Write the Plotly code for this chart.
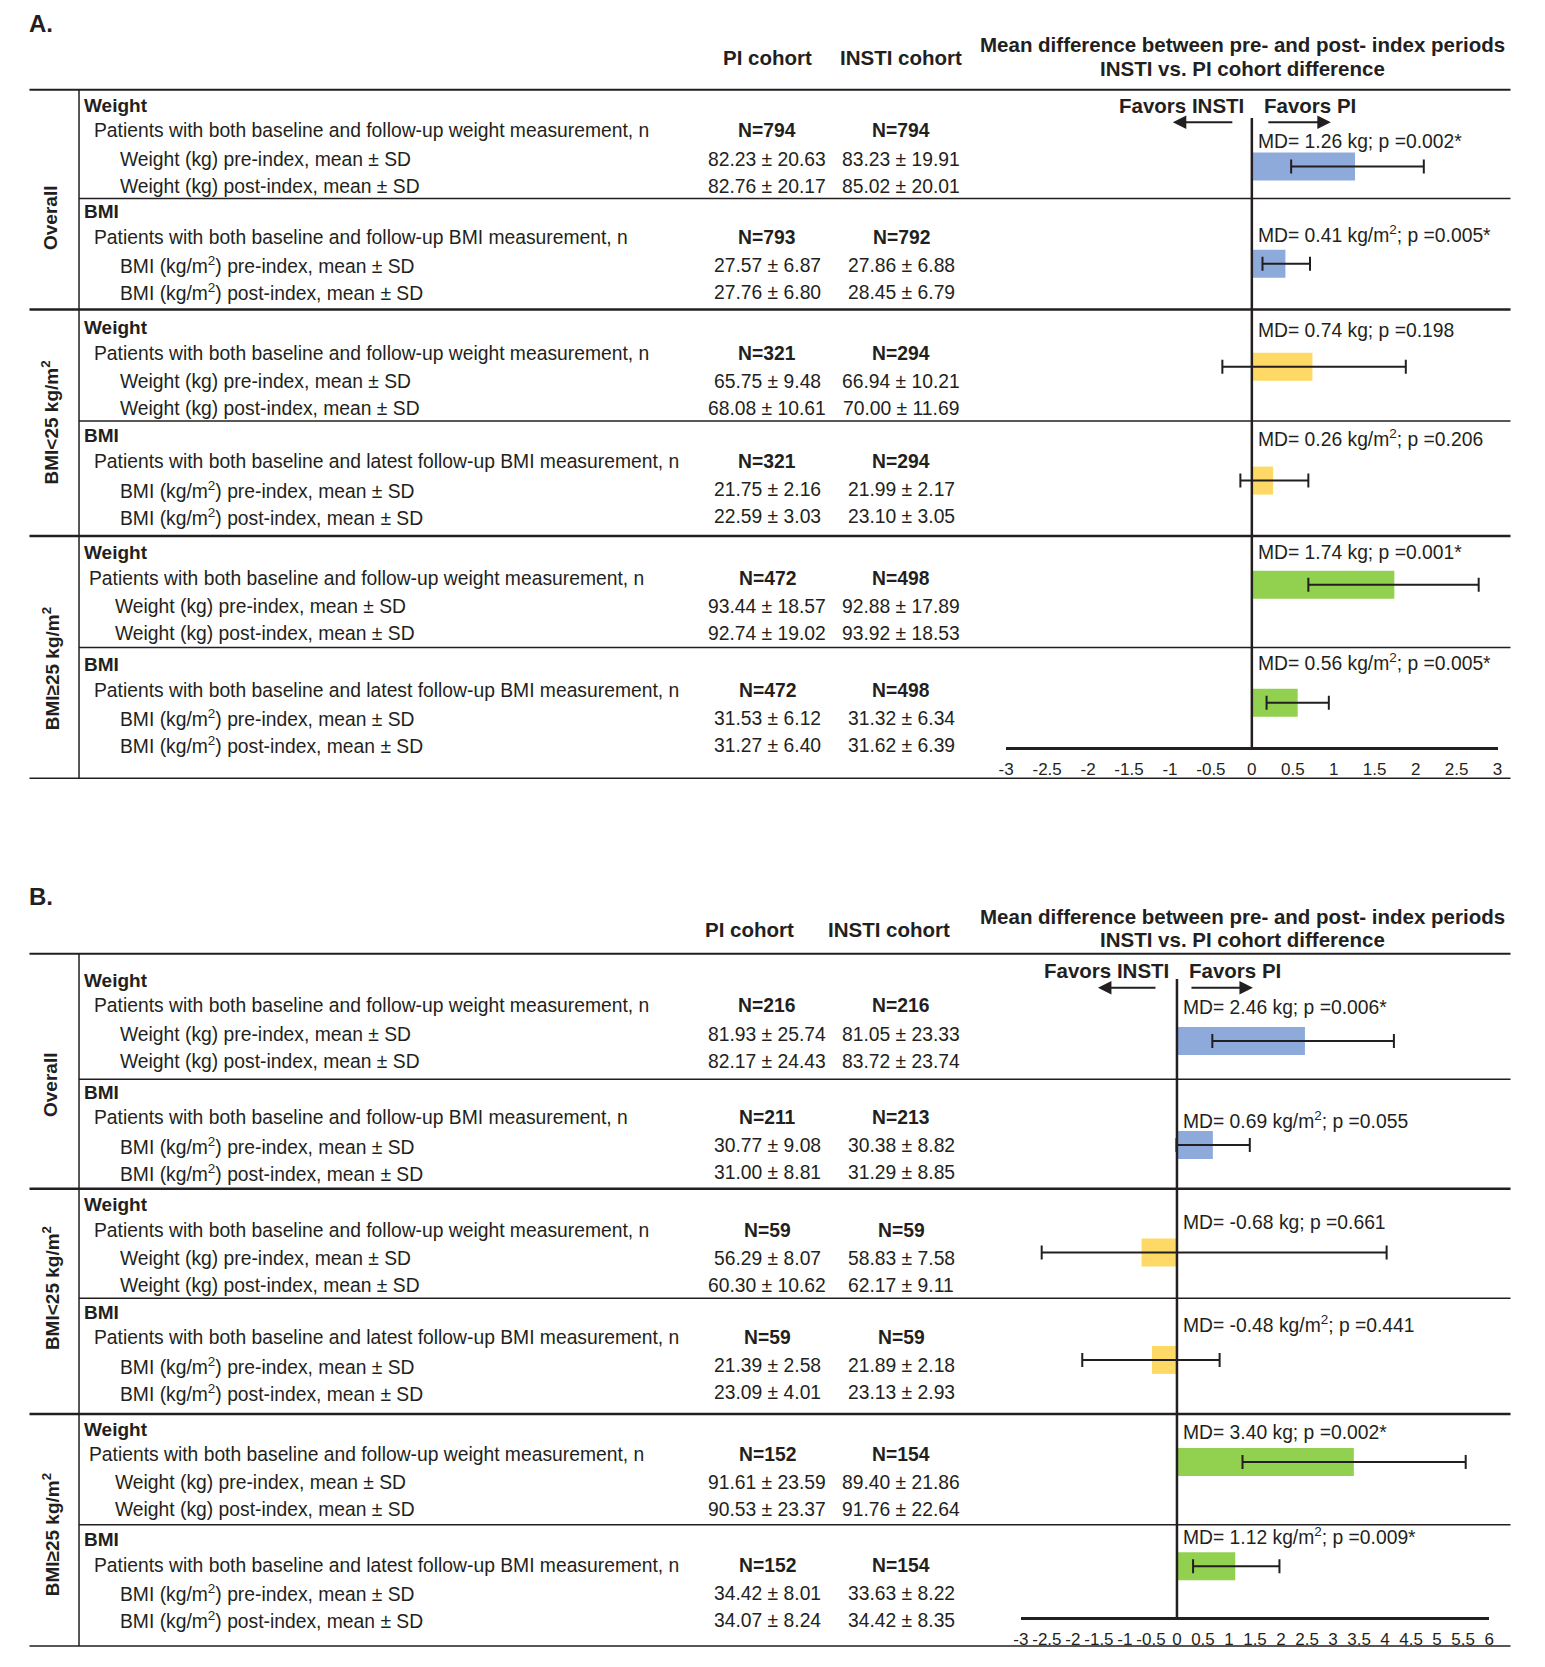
import plotly.graph_objects as go

PAGE_W, PAGE_H = 1545, 1667
OFF = 8  # default body margin of the html page
FW, FH = PAGE_W - 2 * OFF, PAGE_H - 2 * OFF  # keep the page free of overflow
# horizontal calibration of the rendered page (measured from previous renders)
CAL_SCALE, CAL_SHIFT = 0.9908, 8.6
FONT = "Liberation Sans, Arial, Helvetica, sans-serif"
INK = "#231F20"
BODY = 19.3

# ---------------- text shared by both panels ----------------
group_labels = ["Overall", "BMI&lt;25 kg/m<sup>2</sup>", "BMI≥25 kg/m<sup>2</sup>"]
measure_names = ["Weight", "BMI", "Weight", "BMI", "Weight", "BMI"]
patient_rows = [
    "Patients with both baseline and follow-up weight measurement, n",
    "Patients with both baseline and follow-up BMI measurement, n",
    "Patients with both baseline and follow-up weight measurement, n",
    "Patients with both baseline and latest follow-up BMI measurement, n",
    "Patients with both baseline and follow-up weight measurement, n",
    "Patients with both baseline and latest follow-up BMI measurement, n",
]
pre_rows = ["Weight (kg) pre-index, mean ± SD", "BMI (kg/m<sup>2</sup>) pre-index, mean ± SD"] * 3
post_rows = ["Weight (kg) post-index, mean ± SD", "BMI (kg/m<sup>2</sup>) post-index, mean ± SD"] * 3
md_units = ["kg", "kg/m<sup>2</sup>"] * 3
col_headers = ["PI cohort", "INSTI cohort"]
md_header = ["Mean difference between pre- and post- index periods", "INSTI vs. PI cohort difference"]
favors = ["Favors INSTI", "Favors PI"]

# ---------------- panel A data ----------------
a_pi_n = [794, 793, 321, 321, 472, 472]
a_insti_n = [794, 792, 294, 294, 498, 498]
a_pi_pre_mean = [82.23, 27.57, 65.75, 21.75, 93.44, 31.53]
a_pi_pre_sd = [20.63, 6.87, 9.48, 2.16, 18.57, 6.12]
a_pi_post_mean = [82.76, 27.76, 68.08, 22.59, 92.74, 31.27]
a_pi_post_sd = [20.17, 6.80, 10.61, 3.03, 19.02, 6.40]
a_insti_pre_mean = [83.23, 27.86, 66.94, 21.99, 92.88, 31.32]
a_insti_pre_sd = [19.91, 6.88, 10.21, 2.17, 17.89, 6.34]
a_insti_post_mean = [85.02, 28.45, 70.00, 23.10, 93.92, 31.62]
a_insti_post_sd = [20.01, 6.79, 11.69, 3.05, 18.53, 6.39]
a_md = [1.26, 0.41, 0.74, 0.26, 1.74, 0.56]
a_ci_low = [0.48, 0.13, -0.36, -0.14, 0.69, 0.18]
a_ci_high = [2.10, 0.71, 1.88, 0.69, 2.77, 0.94]
a_p = ["0.002*", "0.005*", "0.198", "0.206", "0.001*", "0.005*"]
a_ticks = [-3, -2.5, -2, -1.5, -1, -0.5, 0, 0.5, 1, 1.5, 2, 2.5, 3]
a_tick_labels = ["-3", "-2.5", "-2", "-1.5", "-1", "-0.5", "0", "0.5", "1", "1.5", "2", "2.5", "3"]

# ---------------- panel B data ----------------
b_pi_n = [216, 211, 59, 59, 152, 152]
b_insti_n = [216, 213, 59, 59, 154, 154]
b_pi_pre_mean = [81.93, 30.77, 56.29, 21.39, 91.61, 34.42]
b_pi_pre_sd = [25.74, 9.08, 8.07, 2.58, 23.59, 8.01]
b_pi_post_mean = [82.17, 31.00, 60.30, 23.09, 90.53, 34.07]
b_pi_post_sd = [24.43, 8.81, 10.62, 4.01, 23.37, 8.24]
b_insti_pre_mean = [81.05, 30.38, 58.83, 21.89, 89.40, 33.63]
b_insti_pre_sd = [23.33, 8.82, 7.58, 2.18, 21.86, 8.22]
b_insti_post_mean = [83.72, 31.29, 62.17, 23.13, 91.76, 34.42]
b_insti_post_sd = [23.74, 8.85, 9.11, 2.93, 22.64, 8.35]
b_md = [2.46, 0.69, -0.68, -0.48, 3.40, 1.12]
b_ci_low = [0.68, -0.01, -2.60, -1.82, 1.26, 0.31]
b_ci_high = [4.17, 1.40, 4.03, 0.82, 5.55, 1.97]
b_p = ["0.006*", "0.055", "0.661", "0.441", "0.002*", "0.009*"]
b_ticks = [-3, -2.5, -2, -1.5, -1, -0.5, 0, 0.5, 1, 1.5, 2, 2.5, 3, 3.5, 4, 4.5, 5, 5.5, 6]
b_tick_labels = ["-3", "-2.5", "-2", "-1.5", "-1", "-0.5", "0", "0.5", "1", "1.5", "2",
                 "2.5", "3", "3.5", "4", "4.5", "5", "5.5", "6"]

# ---------------- styles / layout (page pixel positions) ----------------
bar_colors = ["#8EAADB", "#8EAADB", "#FFD966", "#FFD966", "#92D050", "#92D050"]
indent_shift = [0, 0, 0, 0, -5, 0]
row_offsets = [0, 25.5, 53.7, 80.8]
COL_X = (767, 901)
BAR_H = 28

panels = [
    dict(letter="A.", xa="x", ya="y", xkey="xaxis", ykey="yaxis",
         dom_top=10, dom_bot=800, x_left=1006, x_right=1497, axis_y=747.5,
         letter_y=23.4, colhead_y=57.4, colhead_x=(767, 901), mdhead_y=(44.7, 68.0),
         head_line=89.8, inner_lines=(198.5, 309.4, 421.1, 535.9, 647.5), bottom_line=778.3,
         favors_y=105.5, arrow_y=122.3, zero_top=118,
         arrows=((-18, -79), (15, 79)),
         group_label_y=(217.5, 422, 668.8),
         hdr_y=(105.3, 211.6, 327.5, 435.9, 552.9, 664.5),
         md_y=(141.5, 233.9, 330.7, 438.1, 552.9, 662.4),
         bar_y=(166.5, 263.7, 366.8, 480.6, 584.8, 702.8),
         ticks=a_ticks, tick_labels=a_tick_labels, xr=(-3, 3),
         pi_n=a_pi_n, insti_n=a_insti_n,
         pi_pre=(a_pi_pre_mean, a_pi_pre_sd), pi_post=(a_pi_post_mean, a_pi_post_sd),
         insti_pre=(a_insti_pre_mean, a_insti_pre_sd), insti_post=(a_insti_post_mean, a_insti_post_sd),
         md=a_md, lo=a_ci_low, hi=a_ci_high, p=a_p),
    dict(letter="B.", xa="x2", ya="y2", xkey="xaxis2", ykey="yaxis2",
         dom_top=850, dom_bot=1656, x_left=1020.7, x_right=1488.6, axis_y=1618.3,
         letter_y=896.3, colhead_y=929.3, colhead_x=(749.6, 889), mdhead_y=(916.5, 940.0),
         head_line=953.7, inner_lines=(1079.2, 1188.7, 1298.2, 1414.1, 1524.7), bottom_line=1645.9,
         favors_y=970.8, arrow_y=987.8, zero_top=979,
         arrows=((-20, -79), (13, 76)),
         group_label_y=(1084.5, 1287.6, 1534.8),
         hdr_y=(980.3, 1092.0, 1204.7, 1312.1, 1429.0, 1539.6),
         md_y=(1008.0, 1119.6, 1222.8, 1323.8, 1432.2, 1536.4),
         bar_y=(1041.0, 1145.1, 1252.5, 1359.9, 1462.0, 1566.2),
         ticks=b_ticks, tick_labels=b_tick_labels, xr=(-3, 6),
         pi_n=b_pi_n, insti_n=b_insti_n,
         pi_pre=(b_pi_pre_mean, b_pi_pre_sd), pi_post=(b_pi_post_mean, b_pi_post_sd),
         insti_pre=(b_insti_pre_mean, b_insti_pre_sd), insti_post=(b_insti_post_mean, b_insti_post_sd),
         md=b_md, lo=b_ci_low, hi=b_ci_high, p=b_p),
]


def PX(x):
    css = (x - CAL_SHIFT) / CAL_SCALE
    return (css - OFF) / FW


def PY(y):
    return 1 - (y - OFF) / FH


fig = go.Figure()
annotations = []
shapes = []


def font(size):
    return dict(family=FONT, size=size, color=INK)


def add_text(text, x, y, yref, size=BODY, anchor="left", bold=False, angle=0, xref="paper", xshift=0):
    annotations.append(dict(
        text=f"<b>{text}</b>" if bold else text,
        x=PX(x) if xref == "paper" else x, xref=xref, y=y, yref=yref,
        xanchor=anchor, yanchor="middle", showarrow=False, font=font(size),
        textangle=angle, xshift=xshift))


def hline(y, x0, x1, yref, width):
    shapes.append(dict(type="line", xref="paper", yref=yref, x0=PX(x0), x1=PX(x1),
                       y0=y, y1=y, line=dict(color=INK, width=width)))


def fmt(mean, sd):
    return f"{mean:.2f} ± {sd:.2f}"


layout_axes = {}
for L in panels:
    ya, xa = L["ya"], L["xa"]

    layout_axes[L["ykey"]] = dict(domain=[PY(L["dom_bot"]), PY(L["dom_top"])],
                                  range=[L["dom_bot"], L["dom_top"]],
                                  visible=False, anchor=xa, fixedrange=True)
    layout_axes[L["xkey"]] = dict(domain=[PX(L["x_left"]), PX(L["x_right"])], range=list(L["xr"]),
                                  anchor="free", position=PY(L["axis_y"]),
                                  showline=True, linecolor=INK, linewidth=2.5, ticks="",
                                  tickmode="array", tickvals=L["ticks"], ticktext=L["tick_labels"],
                                  tickfont=font(17), tickangle=0, showgrid=False, zeroline=False,
                                  ticklabelstandoff=5, fixedrange=True)

    # headers
    add_text(L["letter"], 28, L["letter_y"], ya, size=24, bold=True)
    add_text(col_headers[0], L["colhead_x"][0], L["colhead_y"], ya, size=20.5, anchor="center", bold=True)
    add_text(col_headers[1], L["colhead_x"][1], L["colhead_y"], ya, size=20.5, anchor="center", bold=True)
    add_text(md_header[0], 1242, L["mdhead_y"][0], ya, size=20.5, anchor="center", bold=True)
    add_text(md_header[1], 1242, L["mdhead_y"][1], ya, size=20.5, anchor="center", bold=True)

    # favors labels and arrows
    add_text(favors[0], 0, L["favors_y"], ya, size=20.5, anchor="right", bold=True, xref=xa, xshift=-6)
    add_text(favors[1], 0, L["favors_y"], ya, size=20.5, anchor="left", bold=True, xref=xa, xshift=10)
    for tail, head in L["arrows"]:
        annotations.append(dict(text="", x=0, xref=xa, y=L["arrow_y"], yref=ya, xshift=head,
                                ax=tail - head, ay=0, showarrow=True, arrowhead=2, arrowsize=1.35,
                                arrowwidth=2, arrowcolor=INK, standoff=0, startstandoff=0))

    # table lines
    hline(L["head_line"], 30, 1510, ya, 2)
    for m, yl in enumerate(L["inner_lines"], start=1):
        if m % 2 == 0:
            hline(yl, 30, 1510, ya, 2.5)
        else:
            hline(yl, 79.5, 1510, ya, 1.5)
    hline(L["bottom_line"], 30, 1510, ya, 1.5)
    shapes.append(dict(type="line", xref="paper", yref=ya, x0=PX(79.5), x1=PX(79.5),
                       y0=L["head_line"], y1=L["bottom_line"], line=dict(color=INK, width=1.5)))
    # zero line
    shapes.append(dict(type="line", xref=xa, yref=ya, x0=0, x1=0, y0=L["zero_top"], y1=L["axis_y"],
                       line=dict(color=INK, width=2.5)))

    # group labels
    for g in range(3):
        add_text(group_labels[g], 51, L["group_label_y"][g], ya, size=19, anchor="center",
                 bold=True, angle=-90)

    # table rows
    for m in range(6):
        base = L["hdr_y"][m]
        sh = indent_shift[m]
        r = [base + o for o in row_offsets]
        add_text(measure_names[m], 82, r[0], ya, size=19, bold=True)
        add_text(patient_rows[m], 92 + sh, r[1], ya)
        add_text(pre_rows[m], 118 + sh, r[2], ya)
        add_text(post_rows[m], 118 + sh, r[3], ya)
        add_text(f"N={L['pi_n'][m]}", COL_X[0], r[1], ya, anchor="center", bold=True)
        add_text(f"N={L['insti_n'][m]}", COL_X[1], r[1], ya, anchor="center", bold=True)
        add_text(fmt(L["pi_pre"][0][m], L["pi_pre"][1][m]), COL_X[0], r[2], ya, anchor="center")
        add_text(fmt(L["insti_pre"][0][m], L["insti_pre"][1][m]), COL_X[1], r[2], ya, anchor="center")
        add_text(fmt(L["pi_post"][0][m], L["pi_post"][1][m]), COL_X[0], r[3], ya, anchor="center")
        add_text(fmt(L["insti_post"][0][m], L["insti_post"][1][m]), COL_X[1], r[3], ya, anchor="center")
        add_text(f"MD= {L['md'][m]:.2f} {md_units[m]}; p ={L['p'][m]}", 0, L["md_y"][m], ya,
                 xref=xa, xshift=4)

    # bars with CI
    md = L["md"]
    fig.add_trace(go.Bar(
        x=md, y=list(L["bar_y"]), orientation="h",
        width=[BAR_H] * 6, marker=dict(color=bar_colors, line=dict(width=0)),
        error_x=dict(type="data", symmetric=False,
                     array=[h - v for h, v in zip(L["hi"], md)],
                     arrayminus=[v - lo for v, lo in zip(md, L["lo"])],
                     color=INK, thickness=2, width=7),
        xaxis=xa, yaxis=ya, showlegend=False, hoverinfo="skip"))

fig.update_layout(width=FW, height=FH, margin=dict(l=0, r=0, t=0, b=0),
                  paper_bgcolor="white", plot_bgcolor="rgba(0,0,0,0)",
                  annotations=annotations, shapes=shapes, **layout_axes)

fig.write_html("out.html")
